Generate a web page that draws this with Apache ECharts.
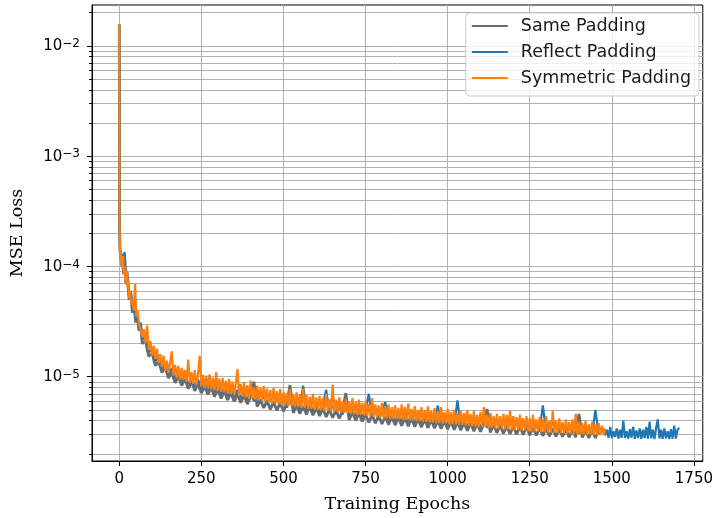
<!DOCTYPE html>
<html><head><meta charset="utf-8">
<script src="https://cdn.jsdelivr.net/npm/echarts@6/dist/echarts.min.js"></script>
<style>html,body{margin:0;padding:0;background:#fff}#c{width:716px;height:518px}</style>
</head><body><div id="c"></div>
<script>
// ---------- DATA (loss values in units of 1e-6) ----------
const seriesNames = ['Same Padding', 'Reflect Padding', 'Symmetric Padding'];
const xTicks = [0, 250, 500, 750, 1000, 1250, 1500, 1750];
const yMajorTicks = [1e-5, 1e-4, 1e-3, 1e-2];
const yMinorTicks = [2e-6,3e-6,4e-6,5e-6,6e-6,7e-6,8e-6,9e-6,
  2e-5,3e-5,4e-5,5e-5,6e-5,7e-5,8e-5,9e-5,
  2e-4,3e-4,4e-4,5e-4,6e-4,7e-4,8e-4,9e-4,
  2e-3,3e-3,4e-3,5e-3,6e-3,7e-3,8e-3,9e-3,2e-2];

// Same Padding
const sameEarlyEpochs = [0,1,2,3,5,8,10,13,16,20,25,30,35,40,45,50,55,60,65];
const sameEarlyLoss = [15600,220,150,130,120,100,125,85,130,70,80,50,58,38,45,31,36,26,30];
const sameStart = 70, sameStep = 10;
const sameLoss = [
 20,21,15.3,16.3,12.6,13.8,10.9,12.1,9.7,10.9,
 8.8,10.1,8.3,9.5,7.8,9.0,7.45,8.6,7.1,8.25,
 6.9,8.0,6.6,7.7,6.35,7.4,6.15,7.15,5.95,7.0,
 5.8,6.8,5.65,6.55,9.0,5.35,6.2,5.2,6.05,5.05,
 5.9,4.95,5.8,4.85,5.7,8.4,4.7,5.5,4.62,5.4,
 4.55,5.35,4.47,5.25,4.4,5.15,4.32,5.05,4.25,4.98,
 4.18,4.9,7.1,4.06,4.75,4.0,4.65,3.92,4.58,3.85,
 4.5,3.78,4.45,3.73,4.38,3.68,4.32,3.64,4.27,3.6,
 4.22,3.56,4.18,3.52,4.14,3.48,4.1,3.45,4.05,3.42,
 4.0,3.38,3.96,3.34,3.92,3.3,3.88,3.27,3.84,3.24,
 3.8,3.2,3.76,3.17,3.72,5.1,3.12,3.68,3.09,3.64,
 3.06,3.6,3.03,3.56,3.0,3.53,2.98,3.5,2.95,3.47,
 2.93,3.44,2.91,3.41,2.89,3.39,2.87,3.36,2.85,3.34,
 2.83,3.32,2.82,4.6,2.8,3.28,2.79,3.26,2.78,3.25];

// Reflect Padding
const reflectEarlyEpochs = [0,1,2,3,5,8,10,13,16,20,25,30,35,40,45,50,55,60,65];
const reflectEarlyLoss = [15600,230,155,135,125,110,130,95,135,80,88,55,60,40,48,33,38,28,31];
const reflectStart = 70, reflectStep = 10;
const reflectLoss = [
 22,22.5,16.8,17.5,13.9,15,11.9,13.2,10.6,11.9,
 9.7,11,9.1,10.3,8.6,9.8,8.2,9.4,7.75,9.0,
 7.55,8.7,7.25,8.4,7.0,8.05,6.75,7.8,6.55,7.6,
 6.4,7.4,6.2,7.15,6.0,6.9,5.8,6.7,5.6,6.5,
 5.5,6.35,5.35,6.25,5.25,6.1,5.15,6.0,5.05,8.3,
 5.0,5.8,4.9,5.7,4.8,5.6,7.6,4.7,5.5,4.6,
 5.4,4.55,5.3,4.45,5.2,4.4,5.1,4.3,5.0,7.0,
 4.2,4.9,4.1,4.8,5.9,4.05,4.7,4.0,4.65,3.95,
 4.6,3.9,4.55,3.85,4.5,3.82,4.45,3.78,4.4,3.74,
 5.5,3.7,4.3,3.65,4.27,3.62,6.1,3.58,4.2,3.54,
 4.15,3.5,4.1,3.47,4.05,3.44,4.0,3.41,3.98,3.38,
 3.95,3.34,3.92,3.31,3.88,3.28,3.85,3.25,3.82,3.22,
 3.78,3.19,5.5,3.16,3.72,3.14,3.68,3.11,3.65,3.09,
 3.62,3.07,3.6,3.05,3.58,3.03,3.56,3.02,5.0,3.0,
 3.45,2.95];
const reflectTailStart = 1485, reflectTailStep = 5;
const reflectTailLoss = [
 3.3,2.8,3.5,2.78,3.2,2.85,3.4,2.75,3.3,2.8,
 4.0,2.78,3.2,2.75,3.35,2.8,3.5,2.74,3.25,2.78,
 3.4,2.73,3.3,2.78,3.5,2.75,3.9,2.76,3.3,2.72,
 3.45,4.1,2.75,3.3,2.73,3.4,2.76,3.2,2.72,3.35,
 2.74,3.6,2.75,3.3,3.45];

// Symmetric Padding
const symEarlyEpochs = [0,1,2,3,4,5,6,8,10,12,14,16,18,20,22,24,26,28,30,33,36,40,44,48,52,56,60];
const symEarlyLoss = [15600,240,145,125,115,130,105,120,95,125,85,100,75,88,68,92,62,75,52,60,45,50,40,70,35,40,30];
const symStart = 65, symStep = 5;
const symLoss = [
 30,23,27,20,29,17.5,21,15.5,19,14.5,
 18,13.2,16,12.2,15.5,11.3,14,10.8,13.5,17,
 10.2,12.8,9.7,12.5,9.4,12,9.3,11.5,9,14.3,
 8.8,11,8.6,11.5,8.4,10.5,15.5,8.1,10.4,7.9,
 10.2,7.8,10.5,7.7,9.8,7.5,11,7.4,9.6,7.3,
 9.7,7.2,9.2,7.0,9.5,6.9,9.0,6.8,8.8,11.7,
 6.7,8.6,6.6,8.9,6.5,8.4,6.3,9.2,6.3,8.0,
 6.2,8.3,6.1,7.9,6.0,8.2,5.9,7.8,5.8,7.6,
 5.7,7.9,5.7,7.4,5.6,7.7,5.5,7.3,5.5,7.1,
 5.4,7.7,5.4,7.0,5.3,7.2,5.3,6.9,5.2,7.8,
 5.2,6.8,5.1,6.6,5.1,7.0,5.0,6.5,5.0,6.7,
 4.95,6.4,4.9,7.0,4.9,6.3,4.85,8.5,4.8,6.2,
 4.75,6.5,4.7,6.0,4.7,6.3,4.65,5.9,4.6,6.4,
 4.55,5.9,4.5,6.2,4.5,5.8,4.45,6.0,4.4,5.7,
 4.35,6.4,4.3,5.6,4.3,5.5,4.25,5.8,4.2,5.4,
 4.2,5.6,4.15,5.3,4.15,5.5,4.1,5.2,4.1,5.6,
 4.05,5.3,4.05,5.7,4.0,5.1,4.0,5.4,3.95,5.0,
 3.95,5.3,3.9,5.0,3.9,5.4,3.85,4.9,3.85,5.2,
 3.8,4.9,3.8,5.3,3.75,4.8,3.75,5.1,3.7,4.8,
 3.7,5.0,3.7,4.7,3.65,4.9,3.65,4.7,3.6,5.0,
 3.6,4.6,3.55,4.9,3.55,4.5,3.5,4.8,3.5,5.3,
 3.5,4.5,3.45,4.7,3.45,4.4,3.4,4.6,3.4,4.4,
 3.4,4.6,3.35,4.5,3.35,4.9,3.3,4.4,3.3,4.3,
 3.3,4.5,3.25,4.2,3.25,4.4,3.2,4.2,3.2,4.5,
 3.2,4.1,3.18,4.3,3.15,4.1,3.15,4.4,3.12,4.0,
 3.12,4.9,3.1,4.0,3.1,4.2,3.08,3.9,3.08,4.1,
 3.05,3.9,3.05,4.1,3.02,4.6,3.0,3.9,3.0,3.8,
 3.0,4.0,2.98,3.7,2.98,3.9,2.96,3.7,2.96,3.8,
 2.95,3.6,2.95,3.4];

// ---------- BUILD ----------
const U = 1e-6;
function pairs(epochs, vals) { return epochs.map((e, i) => [e, vals[i] * U]); }
function stepped(start, step, vals) { return vals.map((v, i) => [start + i * step, v * U]); }
const sameData = pairs(sameEarlyEpochs, sameEarlyLoss).concat(stepped(sameStart, sameStep, sameLoss));
const reflectData = pairs(reflectEarlyEpochs, reflectEarlyLoss)
  .concat(stepped(reflectStart, reflectStep, reflectLoss))
  .concat(stepped(reflectTailStart, reflectTailStep, reflectTailLoss));
const symData = pairs(symEarlyEpochs, symEarlyLoss).concat(stepped(symStart, symStep, symLoss));

const gridColor = '#b0b0b0';
const chart = echarts.init(document.getElementById('c'), null, {renderer: 'canvas'});
function supLabel(v) {
  const p = Math.round(Math.log10(v));
  return '{b|10}{s|' + (p < 0 ? '\u2212' + (-p) : String(p)) + '}';
}
const yMin = 1.72e-6, yMax = 0.0235;
chart.setOption({
  animation: false,
  backgroundColor: '#fff',
  grid: {left: 92, right: 8, top: 5, bottom: 56, show: true, borderColor: '#000', borderWidth: 1, containLabel: false},
  legend: {
    orient: 'vertical', right: 17, top: 13,
    itemWidth: 36, itemHeight: 16, itemGap: 8,
    padding: [4, 8, 9, 5],
    backgroundColor: 'rgba(255,255,255,0.8)', borderColor: '#cccccc', borderWidth: 1, borderRadius: 4,
    itemStyle: {opacity: 0},
    lineStyle: {width: 2},
    textStyle: {fontFamily: 'DejaVu Sans', fontSize: 17.5, lineHeight: 18, color: '#1a1a1a', padding: [0, 0, 0, 8]},
    data: seriesNames
  },
  xAxis: {
    type: 'value', min: -83, max: 1777,
    axisLine: {show: true, onZero: false, lineStyle: {color: '#000', width: 1}},
    axisTick: {show: true, customValues: xTicks, length: 5, lineStyle: {color: '#000'}},
    axisLabel: {customValues: xTicks, margin: 11, fontFamily: 'DejaVu Sans', fontSize: 15, color: '#000',
      formatter: v => String(v)},
    splitLine: {show: true, lineStyle: {color: gridColor, width: 1}},
    name: 'Training Epochs', nameLocation: 'middle', nameGap: 34,
    nameTextStyle: {fontFamily: 'DejaVu Serif', fontSize: 17.5, color: '#000'}
  },
  yAxis: [{
    type: 'log', logBase: 10, min: yMin, max: yMax, position: 'left',
    axisLine: {show: true, onZero: false, lineStyle: {color: '#000', width: 1}},
    axisTick: {show: true, customValues: yMajorTicks, length: 5, lineStyle: {color: '#000'}},
    axisLabel: {
      customValues: yMajorTicks, margin: 12, formatter: supLabel,
      rich: {
        b: {fontFamily: 'DejaVu Sans', fontSize: 15, color: '#000', lineHeight: 16, verticalAlign: 'bottom'},
        s: {fontFamily: 'DejaVu Sans', fontSize: 12, color: '#000', lineHeight: 11, verticalAlign: 'top'}
      }
    },
    splitLine: {show: true, lineStyle: {color: gridColor, width: 1}},
    name: 'MSE Loss', nameLocation: 'middle', nameGap: 66, nameRotate: 90,
    nameTextStyle: {fontFamily: 'DejaVu Serif', fontSize: 17.5, color: '#000'}
  }, {
    type: 'log', logBase: 10, min: yMin, max: yMax, position: 'left',
    axisLine: {show: false, onZero: false},
    axisTick: {show: true, customValues: yMinorTicks, length: 3, lineStyle: {color: '#000'}},
    axisLabel: {show: false},
    splitLine: {show: true, lineStyle: {color: gridColor, width: 1}}
  }],
  series: [
    {name: seriesNames[0], type: 'line', data: sameData, yAxisIndex: 0, symbol: 'none',
     lineStyle: {color: '#6b6b6b', width: 2.8}, itemStyle: {color: '#6b6b6b'}, z: 2},
    {name: seriesNames[1], type: 'line', data: reflectData, yAxisIndex: 0, symbol: 'none',
     lineStyle: {color: '#1f77b4', width: 2.2}, itemStyle: {color: '#1f77b4'}, z: 3},
    {name: seriesNames[2], type: 'line', data: symData, yAxisIndex: 0, symbol: 'none',
     lineStyle: {color: '#ff7f0e', width: 2.2}, itemStyle: {color: '#ff7f0e'}, z: 4}
  ]
});
</script></body></html>
